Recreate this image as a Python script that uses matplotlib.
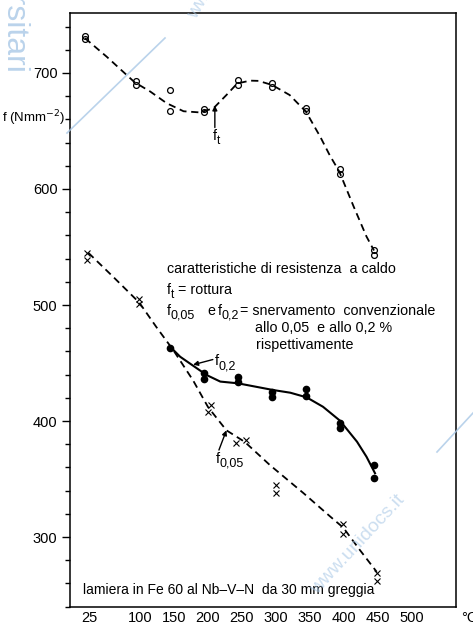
import matplotlib
matplotlib.use('Agg')
import matplotlib.pyplot as plt
from matplotlib.lines import Line2D
from matplotlib.transforms import ScaledTranslation

plt.rcParams['font.family'] = ['Liberation Sans', 'DejaVu Sans']

# f_t (rottura) - open circles, measured points
ft_x = [25, 25, 100, 100, 150, 150, 200, 200, 250, 250, 300, 300, 350, 350, 400, 400, 450, 450]
ft_y = [732, 729, 693, 690, 685, 667, 669, 666, 694, 690, 691, 688, 670, 667, 617, 613, 547, 543]
# f_t fitted curve (dashed)
ft_curve_x = [25, 57, 98, 121, 145, 170, 194, 214, 233, 249, 268, 280, 300, 326, 350, 371, 385, 399, 420, 439, 450]
ft_curve_y = [730, 714, 692, 684, 674, 667, 666, 669.6, 681, 691, 693.4, 693.2, 689.7, 681, 666.6, 645, 629, 615, 585, 559, 547]

# f_0,2 - filled circles
f02_x = [150, 200, 200, 250, 250, 300, 300, 350, 350, 400, 400, 450, 450]
f02_y = [463, 441, 436.5, 438, 433.5, 425, 420.3, 427.3, 421.6, 398.6, 393.7, 362, 351]
f02_curve_x = [152, 165, 182, 204, 224, 250, 302, 327, 351, 375, 400, 425, 439, 451.5]
f02_curve_y = [463, 455.4, 448.5, 439.6, 434, 432.5, 426.7, 424.4, 420.4, 412.3, 400.3, 382.2, 369.2, 355]

# f_0,05 - crosses
f005_x = [28, 28, 105, 105, 206, 210, 247, 262, 306, 306, 405, 405, 455, 455]
f005_y = [545, 539, 505, 501, 408, 414, 381, 384, 345, 338, 311, 303, 269, 262]
f005_curve_x = [30, 67, 105, 130, 155, 184, 206, 233, 260, 297, 346, 385, 405, 429, 454]
f005_curve_y = [545, 524, 502, 481, 461, 435, 412, 392, 382, 362, 338, 318, 308, 289, 270]

x_ticks = [25, 100, 150, 200, 250, 300, 350, 400, 450, 500]
y_ticks = [300, 400, 500, 600, 700]

fig = plt.figure(figsize=(4.73, 6.25), dpi=100)
ax = fig.add_axes([70/473, 18/625, 386/473, 594/625])

dash = (0, (4, 2.6))
ax.plot(ft_curve_x, ft_curve_y, color='black', lw=1.3, linestyle=dash)
ax.plot(f005_curve_x, f005_curve_y, color='black', lw=1.3, linestyle=dash)
ax.plot(f02_curve_x, f02_curve_y, color='black', lw=1.5)

ax.plot(ft_x, ft_y, 'o', ms=4.2, mfc='none', mec='black', mew=0.9)
ax.plot(f02_x, f02_y, 'o', ms=4.5, color='black')
ax.plot(f005_x, f005_y, 'x', ms=4, color='black', mew=0.8)


def fsub(x, y, sub, size=10.3, subsize=9):
    # "f" with a fairly large subscript, as in the original drawing
    ax.annotate('f', (x, y), fontsize=size, va='baseline')
    ax.annotate(sub, (x, y), xytext=(0.27 * size, -0.28 * size), textcoords='offset points',
                fontsize=subsize, va='baseline')


# arrows and curve labels
arw = dict(arrowstyle='-|>', color='black', lw=1.0, mutation_scale=7, shrinkA=0, shrinkB=0)
ax.annotate('', xy=(216, 672), xytext=(216, 653), arrowprops=arw)
fsub(213, 642, 't', 10.3, 8.5)
ax.annotate('', xy=(184, 448.5), xytext=(213, 453), arrowprops=arw)
fsub(216, 448, '0,2', 10.5, 9)
ax.annotate('', xy=(233, 392), xytext=(222, 375), arrowprops=arw)
fsub(217, 364, '0,05', 10.5, 9)

# legend text block
fs = 10.3
ax.text(145, 527.6, 'caratteristiche di resistenza  a caldo', fontsize=fs, va='baseline')
fsub(145.5, 509.2, 't', fs, 8.5)
ax.text(161.8, 509.2, '= rottura', fontsize=fs, va='baseline')
fsub(145.5, 491.4, '0,05', fs, 9)
ax.text(204.4, 491.4, 'e', fontsize=fs, va='baseline')
fsub(220.6, 491.4, '0,2', fs, 9)
ax.text(252.5, 491.4, '= snervamento  convenzionale', fontsize=fs, va='baseline')
ax.text(275, 476.5, 'allo 0,05  e allo 0,2 %', fontsize=fs, va='baseline')
ax.text(276, 461.8, 'rispettivamente', fontsize=fs, va='baseline')
ax.text(22, 250.9, 'lamiera in Fe 60 al Nb\u2013V\u2013N  da 30 mm greggia', fontsize=10, va='baseline')

ax.set_xlim(3, 570.6)
ax.set_ylim(239.7, 751.7)
ax.set_xticks(x_ticks)
ax.set_xticklabels([str(t) for t in x_ticks])
ax.set_yticks(y_ticks)
ax.set_yticks(range(240, 760, 20), minor=True)
ax.tick_params(axis='x', length=0, pad=3, labelsize=10.5)
ax.tick_params(axis='y', which='major', length=6, width=1, pad=3, labelsize=10.5)
ax.tick_params(axis='y', which='minor', length=3.6, width=1)
for s in ax.spines.values():
    s.set_linewidth(1.1)

offset = ScaledTranslation(0.04, 0, fig.dpi_scale_trans)
for lab in ax.get_xticklabels():
    lab.set_transform(lab.get_transform() + offset)

fig.text(65/473, 1 - 118/625, 'f (Nmm$^{-2}$)', fontsize=9.5, ha='right', va='center')
fig.text(461/473, 1 - 618/625, '°C', fontsize=10.5, ha='left', va='center')

# watermark
wm = '#a9c8e6'
fig.text(-1/473, 1 + 22/625, 'ersitari', rotation=-90, ha='left', va='top', fontsize=23, color=wm, alpha=0.8)
fig.text(358/473, 1 - 545/625, 'www.unidocs.it', rotation=47, ha='center', va='center', fontsize=14, color=wm, alpha=0.6)
fig.text(185/473, 1 - 22/625, 'www.unidocs.it', rotation=60, ha='left', va='bottom', fontsize=14, color=wm, alpha=0.6)
fig.add_artist(Line2D([67/473, 165/473], [1 - 133/625, 1 - 38/625], transform=fig.transFigure, color=wm, lw=1.2, alpha=0.8))
fig.add_artist(Line2D([437/473, 473/473], [1 - 452/625, 1 - 413/625], transform=fig.transFigure, color=wm, lw=1.2, alpha=0.8))

fig.savefig('out.png', dpi=100)
